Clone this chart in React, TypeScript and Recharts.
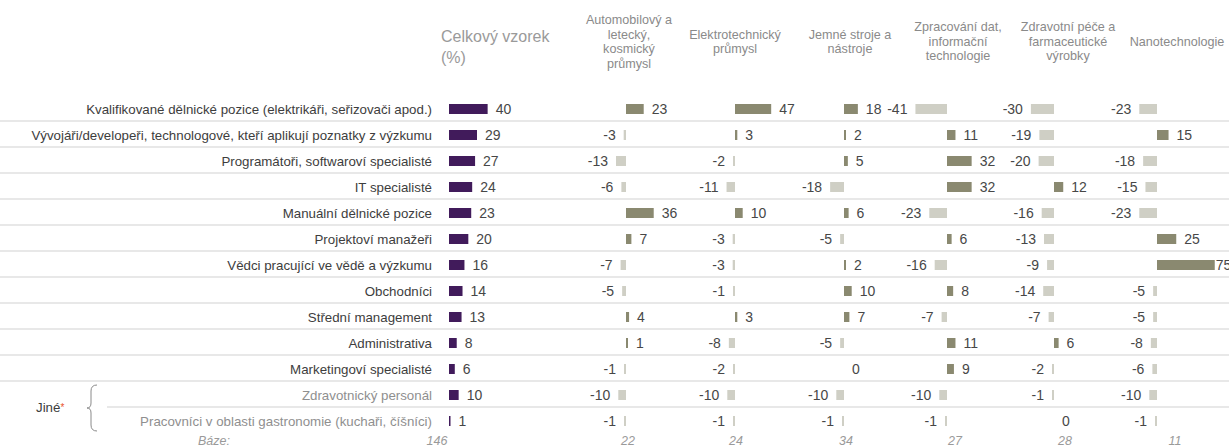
import React from "react";
import { BarChart, Bar, XAxis, YAxis, LabelList, Cell } from "recharts";

const FONT = '"Liberation Sans", Arial, Helvetica, sans-serif';

// rows (job positions)
const positions = [
  "Kvalifikované dělnické pozice (elektrikáři, seřizovači apod.)",
  "Vývojáři/developeři, technologové, kteří aplikují poznatky z výzkumu",
  "Programátoři, softwaroví specialisté",
  "IT specialisté",
  "Manuální dělnické pozice",
  "Projektoví manažeři",
  "Vědci pracující ve vědě a výzkumu",
  "Obchodníci",
  "Střední management",
  "Administrativa",
  "Marketingoví specialisté",
  "Zdravotnický personál",
  "Pracovníci v oblasti gastronomie (kuchaři, číšníci)",
];
const OTHER_COUNT = 2; // last two rows are grouped under "Jiné"

// total sample (%)
const totalSample = [40, 29, 27, 24, 23, 20, 16, 14, 13, 8, 6, 10, 1];

// difference of each sector against the total sample (p.b.)
const automotive = [23, -3, -13, -6, 36, 7, -7, -5, 4, 1, -1, -10, -1];
const electro = [47, 3, -2, -11, 10, -3, -3, -1, 3, -8, -2, -10, -1];
const precision = [18, 2, 5, -18, 6, -5, 2, 10, 7, -5, 0, -10, -1];
const dataIt = [-41, 11, 32, 32, -23, 6, -16, 8, -7, 11, 9, -10, -1];
const health = [-30, -19, -20, 12, -16, -13, -9, -14, -7, 6, -2, -1, 0];
const nano = [-23, 15, -18, -15, -23, 25, 75, -5, -5, -8, -6, -10, -1];

const sectorNames = [
  ["Automobilový a", "letecký,", "kosmický", "průmysl"],
  ["Elektrotechnický", "průmysl"],
  ["Jemné stroje a", "nástroje"],
  ["Zpracování dat,", "informační", "technologie"],
  ["Zdravotní péče a", "farmaceutické", "výrobky"],
  ["Nanotechnologie"],
];
const sectorValues = [automotive, electro, precision, dataIt, health, nano];

// respondent bases
const totalBase = 146;
const sectorBases = [22, 24, 34, 27, 28, 11];

// layout
const PAGE_W = 1229;
const PLOT_TOP = 96;
const ROW_H = 26;
const PLOT_H = ROW_H * positions.length;
const LABEL_W = 449;
const TOTAL_PLOT_W = 111;
const TOTAL_SCALE = 0.966; // px per %
const SECTOR_SCALE = 0.77; // px per p.b.
const HALF = 72;
const AXIS_X = [626, 734.5, 843.5, 947, 1054, 1157];
const HEAD_X = [629, 735, 850, 958, 1068, 1177];
const BASE_X = [628, 736, 846, 955, 1065, 1175];

const TOTAL_COLOR = "#411b5b";
const POS_COLOR = "#8a8970";
const NEG_COLOR = "#cfcfc5";
const TEXT = "#3d3d3d";
const MUTED = "#8f8f8f";
const BASE_STYLE: React.CSSProperties = {
  position: "absolute",
  top: 434,
  fontSize: 12.5,
  fontStyle: "italic",
  color: "#9a9a9a",
};

function RowTick(props: any) {
  const { x, y, payload } = props;
  const idx = positions.indexOf(payload.value);
  const other = idx >= positions.length - OTHER_COUNT;
  return (
    <text
      x={x}
      y={y}
      dy="0.36em"
      textAnchor="end"
      fill={other ? MUTED : TEXT}
      fontSize={13.3}
      fontFamily={FONT}
    >
      {payload.value}
    </text>
  );
}

// value label: right of positive bars, left of negative ones
function makeValueLabel(originX: number) {
  return function ValueLabel(props: any) {
    const vb = props.viewBox && props.viewBox.width !== undefined ? props.viewBox : props;
    const { x, y, width, height } = vb;
    const value = props.value;
    if (value === undefined || value === null) return null;
    const neg = Number(value) < 0;
    const end = neg ? Math.min(x, x + width) : Math.max(x, x + width);
    let off = 8;
    // squeeze the label when it runs into the page edge
    if (!neg && originX + end + off + 12 > PAGE_W) off = 1;
    return (
      <text
        x={neg ? end - off : end + off}
        y={y + height / 2}
        dy="0.36em"
        textAnchor={neg ? "end" : "start"}
        fill="#474747"
        fontSize={14}
        fontFamily={FONT}
      >
        {value}
      </text>
    );
  };
}

// tiny but non-zero so that zero values keep their label
const minSize = (v: any) => (v === 0 ? 0.01 : 2);

function TotalColumn() {
  const data = positions.map((name, i) => ({ name, value: totalSample[i] }));
  return (
    <div style={{ position: "absolute", left: 0, top: PLOT_TOP }}>
      <BarChart
        width={LABEL_W + TOTAL_PLOT_W}
        height={PLOT_H}
        data={data}
        layout="vertical"
        margin={{ top: 0, right: 0, bottom: 0, left: 0 }}
      >
        <XAxis
          type="number"
          hide
          domain={[0, TOTAL_PLOT_W / TOTAL_SCALE]}
          allowDataOverflow
        />
        <YAxis
          type="category"
          dataKey="name"
          width={LABEL_W}
          axisLine={false}
          tickLine={false}
          tickSize={0}
          tickMargin={17}
          interval={0}
          tick={<RowTick />}
        />
        <Bar
          dataKey="value"
          fill={TOTAL_COLOR}
          barSize={10}
          minPointSize={1.5}
          isAnimationActive={false}
        >
          <LabelList dataKey="value" content={makeValueLabel(0)} />
        </Bar>
      </BarChart>
    </div>
  );
}

function SectorColumn({ values, axisX }: { values: number[]; axisX: number }) {
  const data = positions.map((name, i) => ({ name, value: values[i] }));
  const lim = HALF / SECTOR_SCALE;
  return (
    <div style={{ position: "absolute", left: axisX - HALF, top: PLOT_TOP }}>
      <BarChart
        width={HALF * 2}
        height={PLOT_H}
        data={data}
        layout="vertical"
        margin={{ top: 0, right: 0, bottom: 0, left: 0 }}
      >
        <XAxis type="number" hide domain={[-lim, lim]} allowDataOverflow />
        <YAxis type="category" dataKey="name" hide />
        <Bar dataKey="value" barSize={10} minPointSize={minSize} isAnimationActive={false}>
          {data.map((d, i) => (
            <Cell key={`c-${i}`} fill={d.value > 0 ? POS_COLOR : NEG_COLOR} />
          ))}
          <LabelList dataKey="value" content={makeValueLabel(axisX - HALF)} />
        </Bar>
      </BarChart>
    </div>
  );
}

export default function App() {
  const lineTops = positions.slice(1).map((_, i) => PLOT_TOP + ROW_H * (i + 1) - 2);
  const braceMid = PLOT_TOP + ROW_H * (positions.length - 1);
  return (
    <div
      style={{
        position: "absolute",
        left: 0,
        top: 0,
        width: PAGE_W,
        height: 448,
        overflow: "hidden",
        background: "#fff",
        fontFamily: FONT,
      }}
    >
      {/* row separators */}
      {lineTops.map((t, i) => (
        <div
          key={`l-${i}`}
          style={{
            position: "absolute",
            left: i === positions.length - 2 ? 107 : 0,
            right: 0,
            top: t,
            height: 2,
            background: "#e8e8e8",
          }}
        />
      ))}

      {/* column headers */}
      <div
        style={{
          position: "absolute",
          left: 441,
          top: 26,
          fontSize: 16,
          lineHeight: "21px",
          color: "#9a9a9a",
        }}
      >
        Celkový vzorek
        <br />
        (%)
      </div>
      {sectorNames.map((lines, i) => (
        <div
          key={`h-${i}`}
          style={{
            position: "absolute",
            left: HEAD_X[i] - 60,
            width: 120,
            top: 42 - (lines.length * 14.5) / 2,
            textAlign: "center",
            fontSize: 12.6,
            lineHeight: "14.5px",
            color: "#8a8a8a",
          }}
        >
          {lines.map((l, j) => (
            <div key={j}>{l}</div>
          ))}
        </div>
      ))}

      <TotalColumn />
      {sectorValues.map((vals, i) => (
        <SectorColumn key={`s-${i}`} values={vals} axisX={AXIS_X[i]} />
      ))}

      {/* "Jiné" group */}
      <div
        style={{
          position: "absolute",
          left: 36,
          top: braceMid - 9,
          fontSize: 13.3,
          lineHeight: "18px",
          color: TEXT,
        }}
      >
        Jiné<span style={{ color: "#e8542b", fontSize: 10, verticalAlign: "top" }}>*</span>
      </div>
      <svg
        width={20}
        height={60}
        style={{ position: "absolute", left: 84, top: braceMid - 30 }}
      >
        <path
          d="M13,7 Q7,7 7,13 L7,25 Q7,30 3,30 Q7,30 7,35 L7,47 Q7,53 13,53"
          fill="none"
          stroke="#8a8a8a"
          strokeWidth={1}
        />
      </svg>

      {/* bases */}
      <div style={{ ...BASE_STYLE, left: 198 }}>Báze:</div>
      <div style={{ ...BASE_STYLE, left: 437 - 30, width: 60, textAlign: "center" }}>
        {totalBase}
      </div>
      {sectorBases.map((b, i) => (
        <div
          key={`b-${i}`}
          style={{ ...BASE_STYLE, left: BASE_X[i] - 30, width: 60, textAlign: "center" }}
        >
          {b}
        </div>
      ))}
    </div>
  );
}
